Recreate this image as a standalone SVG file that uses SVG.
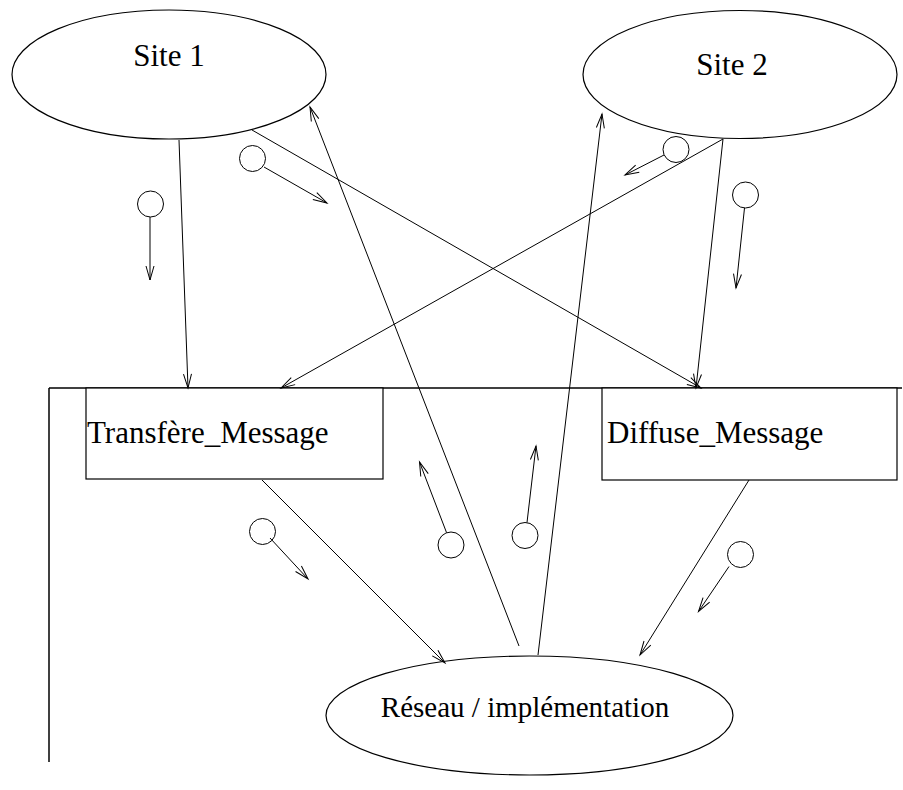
<svg xmlns="http://www.w3.org/2000/svg" width="903" height="790" viewBox="0 0 903 790">
<defs>
<marker id="ah" markerUnits="userSpaceOnUse" markerWidth="20" markerHeight="12" refX="0" refY="0" viewBox="-16 -6 18 12" orient="auto" overflow="visible">
<path d="M-14,-4 L0,0 L-14,4" fill="none" stroke="#000" stroke-width="1"/>
</marker>
</defs>
<style>
.shape{fill:#fff;stroke:#000;stroke-width:1.2}
.lbl{font-family:"Liberation Serif","Times New Roman",serif;fill:#000}
.c{fill:none;stroke:#000;stroke-width:1}
.a{fill:none;stroke:#000;stroke-width:1;marker-end:url(#ah)}
.tok{fill:#fff;stroke:#000;stroke-width:1}
</style>
<rect width="903" height="790" fill="#fff"/>
<g id="frame">
<line x1="49" y1="388" x2="902" y2="388" stroke="#000" stroke-width="1.5"/>
<line x1="49" y1="388" x2="49" y2="762" stroke="#000" stroke-width="1.5"/>
</g>
<g id="site1">
<ellipse class="shape" cx="169" cy="74.5" rx="157" ry="64.5"/>
<text class="lbl" x="169" y="66" font-size="31" text-anchor="middle">Site 1</text>
</g>
<g id="site2">
<ellipse class="shape" cx="740" cy="74.5" rx="157" ry="64"/>
<text class="lbl" x="732" y="75" font-size="31" text-anchor="middle">Site 2</text>
</g>
<g id="transfere">
<rect class="shape" x="86" y="388" width="297" height="91"/>
<text class="lbl" x="87" y="443" font-size="31">Transfère_Message</text>
</g>
<g id="diffuse">
<rect class="shape" x="602" y="388" width="295" height="92"/>
<text class="lbl" x="607" y="443" font-size="31">Diffuse_Message</text>
</g>
<g id="reseau">
<ellipse class="shape" cx="529.5" cy="715.5" rx="203.5" ry="59.5"/>
<text class="lbl" x="525" y="717" font-size="29" text-anchor="middle">Réseau / implémentation</text>
</g>
<g id="connectors">
<line class="a" x1="179" y1="140" x2="188" y2="388"/>
<line class="a" x1="723" y1="139" x2="281" y2="388"/>
<line class="a" x1="252" y1="130" x2="701" y2="388"/>
<line class="a" x1="723" y1="139" x2="696" y2="388"/>
<line class="a" x1="519" y1="646" x2="310" y2="107"/>
<line class="a" x1="538" y1="655" x2="602" y2="114"/>
<line class="a" x1="262" y1="480" x2="445" y2="663"/>
<line class="a" x1="749" y1="480" x2="640" y2="655"/>
</g>
<g id="tokens">
<circle class="tok" cx="150.5" cy="204" r="13"/>
<line class="a" x1="150" y1="217" x2="150" y2="280"/>
<circle class="tok" cx="252.5" cy="158.5" r="13"/>
<line class="a" x1="264" y1="167" x2="327" y2="203"/>
<circle class="tok" cx="676" cy="149.5" r="13"/>
<line class="a" x1="664" y1="155" x2="625" y2="175"/>
<circle class="tok" cx="745.5" cy="195" r="13"/>
<line class="a" x1="744.5" y1="208" x2="736" y2="288"/>
<circle class="tok" cx="262.5" cy="531.5" r="13"/>
<line class="a" x1="270" y1="538" x2="308" y2="579"/>
<circle class="tok" cx="451" cy="545" r="13"/>
<line class="a" x1="446.5" y1="532.5" x2="419.5" y2="462"/>
<circle class="tok" cx="525" cy="535.5" r="13"/>
<line class="a" x1="527" y1="522.5" x2="536" y2="446"/>
<circle class="tok" cx="740.5" cy="554.5" r="13"/>
<line class="a" x1="729" y1="566.5" x2="698.5" y2="611.5"/>
</g>
</svg>
